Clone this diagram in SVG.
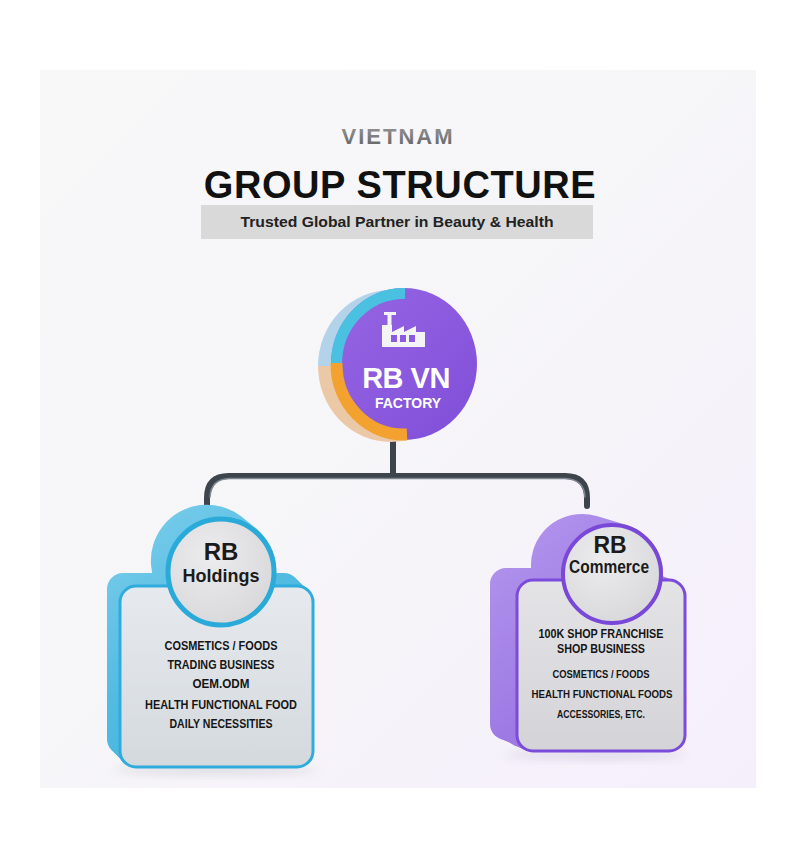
<svg xmlns="http://www.w3.org/2000/svg" width="800" height="845" viewBox="0 0 800 845">
<defs>
<linearGradient id="bg" x1="0" y1="0" x2="1" y2="1">
<stop offset="0" stop-color="#f8f8f9"/>
<stop offset="0.5" stop-color="#f6f5f8"/>
<stop offset="1" stop-color="#f5effc"/>
</linearGradient>
<linearGradient id="vn" x1="0" y1="0" x2="0" y2="1">
<stop offset="0" stop-color="#9a9a9a"/>
<stop offset="1" stop-color="#5f5f5f"/>
</linearGradient>
<linearGradient id="purp" x1="0" y1="0" x2="1" y2="1">
<stop offset="0" stop-color="#9766e4"/>
<stop offset="1" stop-color="#7f4ed8"/>
</linearGradient>
<linearGradient id="cyanSide" gradientUnits="userSpaceOnUse" x1="110" y1="505" x2="300" y2="760">
<stop offset="0" stop-color="#7fcfec"/>
<stop offset="0.5" stop-color="#52bbe2"/>
<stop offset="1" stop-color="#3fb2dd"/>
</linearGradient>
<linearGradient id="purpSide" gradientUnits="userSpaceOnUse" x1="490" y1="515" x2="680" y2="750">
<stop offset="0" stop-color="#b597ee"/>
<stop offset="0.5" stop-color="#a17fe5"/>
<stop offset="1" stop-color="#8f69de"/>
</linearGradient>
<linearGradient id="faceH" x1="0" y1="0" x2="0" y2="1">
<stop offset="0" stop-color="#e6eaee"/>
<stop offset="1" stop-color="#d4d9de"/>
</linearGradient>
<linearGradient id="faceC" x1="0" y1="0" x2="0" y2="1">
<stop offset="0" stop-color="#e4e4e7"/>
<stop offset="1" stop-color="#d4d4d8"/>
</linearGradient>
<radialGradient id="disk" cx="0.4" cy="0.35" r="0.7">
<stop offset="0" stop-color="#ececee"/>
<stop offset="1" stop-color="#d8d8db"/>
</radialGradient>
<filter id="soft" x="-20%" y="-50%" width="140%" height="200%">
<feGaussianBlur stdDeviation="5"/>
</filter>
</defs>
<style>
.title{font-family:"Liberation Sans",Arial,sans-serif;font-weight:bold;text-anchor:middle}
.name{font-family:"Liberation Sans",Arial,sans-serif;font-weight:bold;text-anchor:middle;fill:#1b1b1b}
.item{font-family:"Liberation Sans",Arial,sans-serif;font-weight:bold;text-anchor:middle;fill:#161616}
.wht{font-family:"Liberation Sans",Arial,sans-serif;font-weight:bold;text-anchor:middle;fill:#ffffff}
.conn{fill:none;stroke:#3d444c;stroke-width:6;stroke-linecap:round}
.connHi{fill:none;stroke:#7d868f;stroke-width:1.5;stroke-linecap:round}
.cy{fill:url(#cyanSide)}
.pu{fill:url(#purpSide)}
</style>
<rect width="800" height="845" fill="#ffffff"/>
<rect x="40" y="70" width="716" height="718" fill="url(#bg)"/>

<g id="title">
<text class="title" x="398" y="144" font-size="22" letter-spacing="2" fill="url(#vn)">VIETNAM</text>
<text class="title" x="400" y="198" font-size="38" letter-spacing="0.6" fill="#111111">GROUP STRUCTURE</text>
<rect x="201" y="205" width="392" height="34" fill="#d9d9d9"/>
<text class="title" x="397" y="227" font-size="15.5" fill="#222222" textLength="313" lengthAdjust="spacingAndGlyphs">Trusted Global Partner in Beauty &amp; Health</text>
</g>

<g id="connectors">
<path class="conn" d="M393,440 V476"/>
<path class="conn" d="M207,506 V498 Q207,476 229,476 H565 Q587,476 587,498 V506"/>
<path class="connHi" d="M210,497 Q211,479 229,478.5 H565 Q584,479 585,497"/>
</g>

<g id="factory">
<path d="M318,366 A73 76 0 0 1 464,366 Z" fill="#b3d3ea"/>
<path d="M318,366 A73 76 0 0 0 464,366 Z" fill="#ecc9a6"/>
<ellipse cx="404" cy="364" rx="73" ry="76" fill="url(#purp)"/>
<path d="M405,293.5 A67.5 70.5 0 0 0 336.5,363" fill="none" stroke="#4bc1e2" stroke-width="11"/>
<path d="M336.5,363 A67.5 70.5 0 0 0 407,434.5" fill="none" stroke="#f3a22f" stroke-width="12"/>
<g fill="#f4f4f6">
<rect x="384" y="312" width="12" height="3"/>
<rect x="387.5" y="314" width="4" height="12"/>
<path d="M382,325 H392 V332 L404,326 V332 L416,326 V332 H425 V347 H382 Z"/>
</g>
<g fill="#8a5ae0">
<rect x="391" y="335" width="6" height="7"/>
<rect x="400" y="335" width="6" height="7"/>
<rect x="409" y="335" width="6" height="7"/>
</g>
<text class="wht" x="406" y="388" font-size="29" letter-spacing="-0.5">RB VN</text>
<text class="wht" x="408" y="408" font-size="14">FACTORY</text>
</g>

<g id="rb-holdings">
<ellipse cx="215" cy="770" rx="100" ry="5" fill="#c7c9d0" opacity="0.5" filter="url(#soft)"/>
<path class="cy" d="M171,603.7 L186,615.7 A56 56 0 0 0 256,528.3 L241,516.3 A56 56 0 0 0 171,603.7 Z"/>
<rect class="cy" x="107" y="573" width="193" height="182" rx="16"/>
<rect class="cy" x="110" y="576" width="193" height="182" rx="16"/>
<rect class="cy" x="113" y="579" width="193" height="182" rx="16"/>
<rect class="cy" x="116" y="582" width="193" height="182" rx="16"/>
<rect class="cy" x="118" y="584" width="193" height="182" rx="16"/>
<rect x="120" y="586" width="193" height="181" rx="16" fill="url(#faceH)" stroke="#2fabdc" stroke-width="3"/>
<circle cx="221" cy="572" r="53" fill="url(#disk)" stroke="#2aaad9" stroke-width="5"/>
<text class="name" x="221" y="560" font-size="24">RB</text>
<text class="name" x="221" y="582" font-size="18">Holdings</text>
<text class="item" x="221" y="650" font-size="12.5" textLength="113" lengthAdjust="spacingAndGlyphs">COSMETICS / FOODS</text>
<text class="item" x="221" y="669" font-size="12.5" textLength="107" lengthAdjust="spacingAndGlyphs">TRADING BUSINESS</text>
<text class="item" x="221" y="688" font-size="12.5" textLength="57" lengthAdjust="spacingAndGlyphs">OEM.ODM</text>
<text class="item" x="221" y="709" font-size="12.5" textLength="152" lengthAdjust="spacingAndGlyphs">HEALTH FUNCTIONAL FOOD</text>
<text class="item" x="221" y="728" font-size="12.5" textLength="103" lengthAdjust="spacingAndGlyphs">DAILY NECESSITIES</text>
</g>

<g id="rb-commerce">
<ellipse cx="595" cy="755" rx="90" ry="5" fill="#cbc4d8" opacity="0.5" filter="url(#soft)"/>
<path class="pu" d="M567.4,613.9 L597.4,622.9 A51 51 0 0 0 626.6,525.1 L596.6,516.1 A51 51 0 0 0 567.4,613.9 Z"/>
<rect class="pu" x="490" y="568" width="168" height="172" rx="16"/>
<rect class="pu" x="495" y="570" width="168" height="172" rx="16"/>
<rect class="pu" x="500" y="572" width="168" height="172" rx="16"/>
<rect class="pu" x="505" y="575" width="168" height="172" rx="16"/>
<rect class="pu" x="510" y="577" width="168" height="172" rx="16"/>
<rect class="pu" x="514" y="579" width="168" height="172" rx="16"/>
<rect x="517" y="580" width="168" height="171" rx="16" fill="url(#faceC)" stroke="#7b4bda" stroke-width="3"/>
<circle cx="612" cy="574" r="49" fill="url(#disk)" stroke="#7a48d8" stroke-width="4"/>
<text class="name" x="610" y="553" font-size="23">RB</text>
<text class="name" x="609" y="573" font-size="17.5" textLength="80" lengthAdjust="spacingAndGlyphs">Commerce</text>
<text class="item" x="601" y="638" font-size="13" textLength="125" lengthAdjust="spacingAndGlyphs">100K SHOP FRANCHISE</text>
<text class="item" x="601" y="653" font-size="13" textLength="88" lengthAdjust="spacingAndGlyphs">SHOP BUSINESS</text>
<text class="item" x="601" y="678" font-size="11.5" textLength="97" lengthAdjust="spacingAndGlyphs">COSMETICS / FOODS</text>
<text class="item" x="602" y="698" font-size="11.5" textLength="141" lengthAdjust="spacingAndGlyphs">HEALTH FUNCTIONAL FOODS</text>
<text class="item" x="601" y="718" font-size="11.5" textLength="88" lengthAdjust="spacingAndGlyphs">ACCESSORIES, ETC.</text>
</g>
</svg>
